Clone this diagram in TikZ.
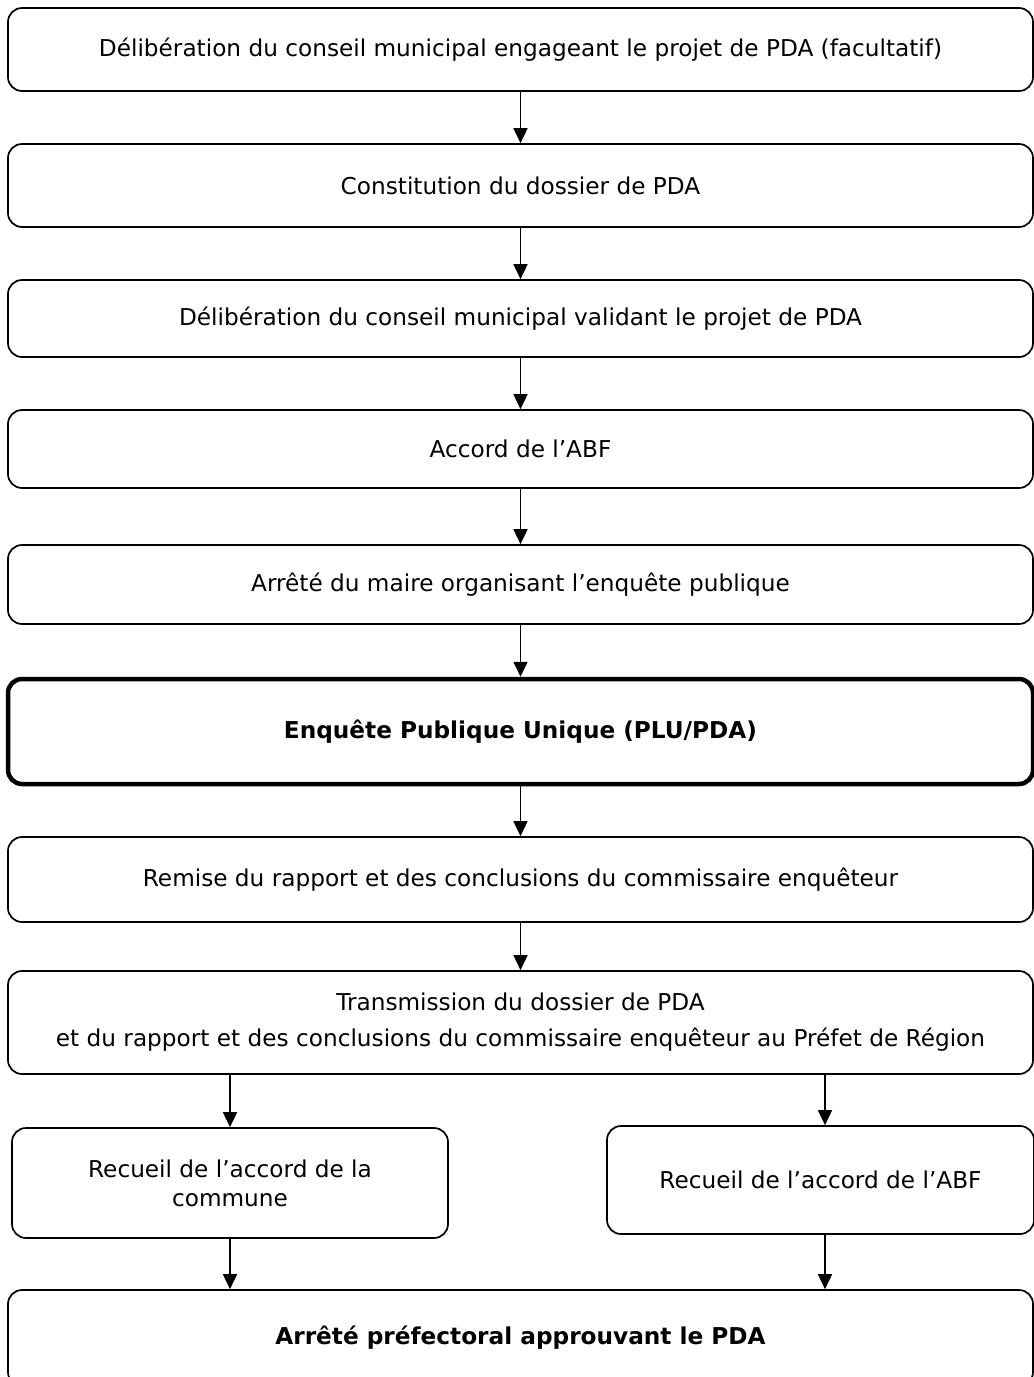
\documentclass[tikz,border=0pt]{standalone}
\usepackage{fontspec}
\setmainfont{DejaVu Sans}
\usetikzlibrary{arrows.meta}
\begin{document}
\begin{tikzpicture}[x=1pt,y=-1pt,
  box/.style={draw=black,line width=1.7pt,rounded corners=14pt,inner sep=0pt,align=center,
    font=\fontsize{23.2}{29}\selectfont},
  thickbox/.style={box,line width=4.5pt},
  arr/.style={line width=1.7pt,-{Triangle[length=15pt,width=14pt]}}]
\useasboundingbox (0,0) rectangle (1034,1377);
\clip (0,0) rectangle (1034,1377);
\node[box,minimum width=1025pt,minimum height=83pt] (b1) at (520.5,49.5) {Délibération du conseil municipal engageant le projet de PDA (facultatif)};
\node[box,minimum width=1025pt,minimum height=83pt] (b2) at (520.5,185.5) {Constitution du dossier de PDA};
\node[box,minimum width=1025pt,minimum height=77pt] (b3) at (520.5,318.5) {Délibération du conseil municipal validant le projet de PDA};
\node[box,minimum width=1025pt,minimum height=78pt] (b4) at (520.5,449) {Accord de l’ABF};
\node[box,minimum width=1025pt,minimum height=79pt] (b5) at (520.5,584.5) {Arrêté du maire organisant l’enquête publique};
\node[thickbox,minimum width=1025pt,minimum height=105pt] (b6) at (520.5,731.5) {\textbf{Enquête Publique Unique (PLU/PDA)}};
\node[box,minimum width=1025pt,minimum height=85pt] (b7) at (520.5,879.5) {Remise du rapport et des conclusions du commissaire enquêteur};
\node[box,minimum width=1025pt,minimum height=103pt,font=\fontsize{23.2}{36}\selectfont] (b8) at (520.5,1022.5) {Transmission du dossier de PDA\\et du rapport et des conclusions du commissaire enquêteur au Préfet de Région};
\node[box,minimum width=436pt,minimum height=110pt] (b9l) at (230,1183) {Recueil de l’accord de la\\commune};
\node[box,minimum width=427pt,minimum height=108pt] (b9r) at (820.5,1180) {Recueil de l’accord de l’ABF};
\node[box,minimum width=1025pt,minimum height=96pt] (b10) at (520.5,1338) {\textbf{Arrêté préfectoral approuvant le PDA}};
\draw[arr] (b1.south) -- (b2.north);
\draw[arr] (b2.south) -- (b3.north);
\draw[arr] (b3.south) -- (b4.north);
\draw[arr] (b4.south) -- (b5.north);
\draw[arr] (b5.south) -- (b6.north);
\draw[arr] (b6.south) -- (b7.north);
\draw[arr] (b7.south) -- (b8.north);
\draw[arr] (b8.south -| b9l.north) -- (b9l.north);
\draw[arr] ([xshift=4.5pt]b8.south -| b9r.north) -- ([xshift=4.5pt]b9r.north);
\draw[arr] (b9l.south) -- (b10.north -| b9l.south);
\draw[arr] ([xshift=4.5pt]b9r.south) -- ([xshift=4.5pt]b10.north -| b9r.south);
\end{tikzpicture}
\end{document}
